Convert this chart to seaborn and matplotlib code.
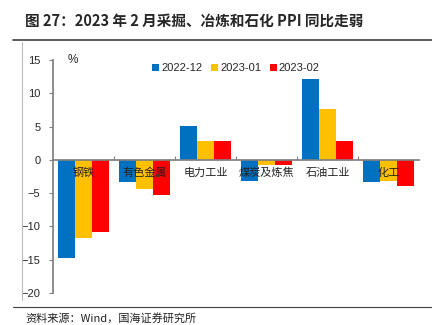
import matplotlib
matplotlib.use("Agg")
import matplotlib.pyplot as plt
import matplotlib.transforms as mtransforms
import seaborn as sns
import pandas as pd
from matplotlib.lines import Line2D

categories = ["钢铁", "有色金属", "电力工业", "煤炭及炼焦", "石油工业", "化工"]
series_names = ["2022-12", "2023-01", "2023-02"]
v_2022_12 = [-14.7, -3.4, 5.1, -3.2, 12.2, -3.3]
v_2023_01 = [-11.7, -4.4, 2.9, -0.8, 7.7, -3.2]
v_2023_02 = [-10.9, -5.3, 2.9, -0.8, 2.9, -3.9]
colors = ["#0070C0", "#FFC000", "#FF0000"]
yticks = [15, 10, 5, 0, -5, -10, -15, -20]

rows = []
for s, vals in zip(series_names, [v_2022_12, v_2023_01, v_2023_02]):
    for c, v in zip(categories, vals):
        rows.append({"cat": c, "series": s, "value": v})
df = pd.DataFrame(rows)

sns.set_theme(style="white")
plt.rcParams['font.family'] = ['Liberation Sans', 'Noto Sans CJK SC', 'DejaVu Sans']

fig = plt.figure(figsize=(4.32, 3.25), dpi=100)
ax = fig.add_axes([53/432, 1-293/325, (419-53)/432, (293-60)/325])

sns.barplot(data=df, x="cat", y="value", hue="series", palette=colors,
            order=categories, hue_order=series_names, width=0.84,
            saturation=1, linewidth=0, ax=ax, legend=True)

ax.set_ylim(-20, 15)
ax.set_yticks(yticks)
ax.set_xlim(-0.5, len(categories) - 0.5)
ax.set_xlabel("")
ax.set_ylabel("")

for side in ["top", "right"]:
    ax.spines[side].set_visible(False)
ax.spines["left"].set_color("#808080")
ax.spines["bottom"].set_color("#808080")
ax.spines["bottom"].set_position(("data", 0))
ax.spines["bottom"].set_zorder(5)

ax.tick_params(axis="y", direction="out", length=3, width=0.8, color="#808080",
               labelsize=8, pad=6, left=True)
ax.set_xticks([i + 0.5 for i in range(len(categories) - 1)])
ax.set_xticklabels([])
ax.tick_params(axis="x", direction="in", length=3, width=0.8, color="#808080", bottom=True)

trans = mtransforms.offset_copy(ax.transData, fig=fig, y=-13, units="dots")
for i, c in enumerate(categories):
    ax.text(i, 0, c, transform=trans, ha="center", va="center", fontsize=8,
            color="#222222", zorder=10, family=['Noto Sans CJK SC', 'DejaVu Sans'])

ax.text(0.04, 1.0, "%", transform=ax.transAxes, fontsize=8.5, va="center", ha="left")

ax.legend(loc="upper center", bbox_to_anchor=(0.5, 1.03), ncol=3, frameon=False,
          fontsize=8, handlelength=0.6, handleheight=0.6, handletextpad=0.2,
          columnspacing=0.8)

fig.text(25/432, 1-21/325, "图 27：2023 年 2 月采掘、冶炼和石化 PPI 同比走弱",
         fontsize=10.5, fontweight="bold", va="center", ha="left",
         family=['Noto Sans CJK SC', 'DejaVu Sans'])
fig.add_artist(Line2D([13/432, 1], [1-40/325, 1-40/325], color="#404040", lw=1.2, transform=fig.transFigure))
fig.add_artist(Line2D([22/432, 22/432], [1-42/325, 1-300/325], color="#bbbbbb", lw=0.8, transform=fig.transFigure))
fig.add_artist(Line2D([13/432, 1], [1-307/325, 1-307/325], color="#404040", lw=0.8, transform=fig.transFigure))
fig.text(25/432, 1-318/325, "资料来源：Wind，国海证券研究所", fontsize=8, va="center", ha="left",
         family=['Noto Sans CJK SC', 'DejaVu Sans'], color="#222222")

fig.savefig("out.png", dpi=100)
